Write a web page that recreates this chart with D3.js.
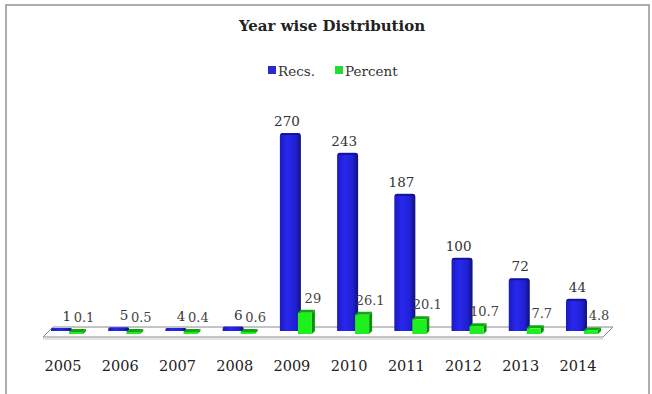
<!DOCTYPE html>
<html><head><meta charset="utf-8">
<script src="https://cdn.jsdelivr.net/npm/d3@7"></script>
<style>body{margin:0;background:#fff}svg{display:block}</style>
</head><body>
<script>
const years = ["2005","2006","2007","2008","2009","2010","2011","2012","2013","2014"];
const recs = [1,5,4,6,270,243,187,100,72,44];
const percent = [0.1,0.5,0.4,0.6,29,26.1,20.1,10.7,7.7,4.8];
const seriesNames = ["Recs.","Percent"];
const title = "Year wise Distribution";

const W=652,H=394;
const svg=d3.select("body").append("svg").attr("width",W).attr("height",H);
const defs=svg.append("defs");
const gb=defs.append("linearGradient").attr("id","gb").attr("x1","0").attr("x2","1");
gb.append("stop").attr("offset","0").attr("stop-color","#1a1abf");
gb.append("stop").attr("offset","0.35").attr("stop-color","#2828ee");
gb.append("stop").attr("offset","0.75").attr("stop-color","#2020d4");
gb.append("stop").attr("offset","1").attr("stop-color","#10107a");

// border
svg.append("rect").attr("x",6).attr("y",5).attr("width",643).attr("height",420)
  .attr("fill","#fff").attr("stroke","#9a9a9a").attr("stroke-width",1.6);

const font="DejaVu Serif, Liberation Serif, serif";
svg.append("text").attr("x",332).attr("y",31).attr("text-anchor","middle")
  .attr("font-family",font).attr("font-weight","bold").attr("font-size",15)
  .attr("fill","#222").text(title);

// legend
const legColors=["#2a2ad0","#22dd33"];
const legX=[268,335];
seriesNames.forEach((n,i)=>{
  svg.append("rect").attr("x",legX[i]).attr("y",66).attr("width",8).attr("height",8).attr("fill",legColors[i]);
  svg.append("text").attr("x",legX[i]+10).attr("y",76).attr("font-family",font).attr("font-size",13.5)
    .attr("fill","#333").text(n);
});

const x=d3.scaleBand().domain(years).range([34.4,606.6]);
const h=d3.scaleLinear().domain([0,270]).range([0,198]);
const baseB=331, baseG=334;

// floor
svg.append("path").attr("d","M53,327 L613,327 L603,337 L43,337 Z")
  .attr("fill","#fdfdfd").attr("stroke","#8a8a8a").attr("stroke-width",1);
svg.append("line").attr("x1",43).attr("x2",603).attr("y1",339).attr("y2",339)
  .attr("stroke","#c8c8c8").attr("stroke-width",1);

const g=svg.append("g");
years.forEach((yr,i)=>{
  const c=x(yr)+x.bandwidth()/2;
  // blue cylinder-like bar
  const bh=Math.max(h(recs[i]),3);
  const x0=c-12,x1=c+9,top=baseB-bh, r=Math.min(3,bh/2);
  g.append("path").attr("d",`M${x0},${baseB} L${x0},${top+r} Q${x0},${top} ${x0+r},${top} L${x1-r},${top} Q${x1},${top} ${x1},${top+r} L${x1},${baseB} Z`)
    .attr("fill","url(#gb)");
  if(bh>6) g.append("path").attr("d",`M${x0+1},${top+1.2} L${x1-1},${top+1.2}`).attr("stroke","#12128a").attr("stroke-width",1.5);
  // green box
  const gh=Math.max(h(percent[i]),2);
  const gx0=c+6,gx1=c+20,gt=baseG-gh,d=3;
  g.append("path").attr("d",`M${gx1},${baseG} L${gx1+d},${baseG-d} L${gx1+d},${gt-d} L${gx1},${gt} Z`).attr("fill","#0a8f0a");
  g.append("path").attr("d",`M${gx0},${gt} L${gx0+d},${gt-d} L${gx1+d},${gt-d} L${gx1},${gt} Z`).attr("fill","#10a810");
  g.append("rect").attr("x",gx0).attr("y",gt).attr("width",gx1-gx0).attr("height",gh).attr("fill","#1ef01e");
  // labels
  g.append("text").attr("x",c+8).attr("y",top-7).attr("text-anchor","end")
    .attr("font-family",font).attr("font-size",13.5).attr("fill","#333").text(recs[i]);
  g.append("text").attr("x",c+21).attr("y",gt-10).attr("text-anchor","middle")
    .attr("font-family",font).attr("font-size",13).attr("fill","#444").text(percent[i]);
});

const ax=svg.append("g").attr("transform","translate(0,358)")
  .call(d3.axisBottom(x).tickSize(0).tickPadding(0));
ax.select(".domain").remove();
ax.selectAll("text").attr("font-family",font).attr("font-size",14.5).attr("fill","#222").attr("dy","0.9em");
</script>
</body></html>
